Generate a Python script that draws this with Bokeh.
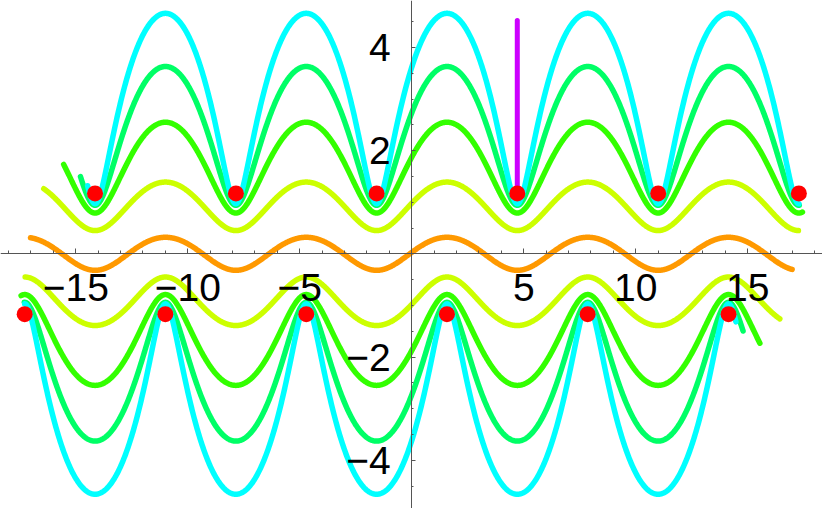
import numpy as np
from bokeh.plotting import figure
from bokeh.models import LinearAxis, FixedTicker, Range1d
from bokeh.embed import file_html
from bokeh.resources import INLINE

# ---- data ----
# upper family of wavy curves (the lower family is the point reflection through the origin)
curve_colors = ["#ff9900", "#ccff00", "#33ff00", "#00ff66", "#00ffff"]
curve_center = [0.0, 0.92, 1.67, 2.285, 2.815]      # mid level of each wave
curve_amp = [0.32, 0.47, 0.88, 1.345, 1.845]         # half height of each wave
curve_skew = [0.09, 0.13, 0.24, 0.36, 0.50]          # how sharp the troughs are
curve_x_start = [-17.02, -16.43, -15.54, -14.79, -14.47]
curve_x_end = [16.98, 17.26, 17.44, 17.30, 17.28]
curve_mirrored = [False, True, True, True, True]

dot_upper_x = [-14.14, -7.85, -1.57, 4.71, 11.0, 17.28]
dot_upper_y = [1.17, 1.17, 1.17, 1.17, 1.17, 1.17]
dot_lower_x = [-17.28, -11.0, -4.71, 1.57, 7.85, 14.14]
dot_lower_y = [-1.17, -1.17, -1.17, -1.17, -1.17, -1.17]

stem_x = [4.71, 4.71]
stem_y = [1.17, 4.52]

x_ticks = [-15, -10, -5, 5, 10, 15]
x_tick_labels = ["\u221215", "\u221210", "\u22125", "5", "10", "15"]
x_minor_ticks = list(range(-18, 19))
y_ticks = [-4, -2, 2, 4]
y_tick_labels = ["\u22124", "\u22122", "2", "4"]
y_minor_ticks = [v / 2 for v in range(-9, 10)]

# ---- figure ----
p = figure(width=822, height=508, output_backend="svg", toolbar_location=None,
           x_range=Range1d(-18.36, 18.335), y_range=Range1d(-4.936, 4.909),
           x_axis_type=None, y_axis_type=None, min_border=0)
p.outline_line_color = None
p.xgrid.visible = False
p.ygrid.visible = False
p.background_fill_color = "white"


def wave(a, b, c, x0, x1):
    tg = np.linspace(-30, 30, 20001)
    xg = tg - a * np.cos(tg)
    t0 = np.interp(x0, xg, tg)
    t1 = np.interp(x1, xg, tg)
    t = np.linspace(t0, t1, 2000)
    return t - a * np.cos(t), c + b * np.sin(t)


for col, c, b, a, x0, x1, mir in zip(curve_colors, curve_center, curve_amp, curve_skew,
                                     curve_x_start, curve_x_end, curve_mirrored):
    x, y = wave(a, b, c, x0, x1)
    p.line(x, y, line_color=col, line_width=5.5, line_cap="round", line_join="round")
    if mir:
        p.line(-x, -y, line_color=col, line_width=5.5, line_cap="round", line_join="round")

p.line(stem_x, stem_y, line_color="#cc00ff", line_width=5, line_cap="round")

p.scatter(dot_upper_x, dot_upper_y, size=16, fill_color="#ff0000", line_color=None)
p.scatter(dot_lower_x, dot_lower_y, size=16, fill_color="#ff0000", line_color=None)

# ---- axes through the origin ----
axis_color = "#555555"
xa = LinearAxis(fixed_location=0,
                ticker=FixedTicker(ticks=x_ticks, minor_ticks=x_minor_ticks))
xa.major_label_overrides = {t: s for t, s in zip(x_ticks, x_tick_labels)}
ya = LinearAxis(fixed_location=0,
                ticker=FixedTicker(ticks=y_ticks, minor_ticks=y_minor_ticks))
ya.major_label_overrides = {t: s for t, s in zip(y_ticks, y_tick_labels)}
for ax in (xa, ya):
    ax.axis_line_color = axis_color
    ax.axis_line_width = 1
    ax.major_tick_line_color = axis_color
    ax.minor_tick_line_color = axis_color
    ax.major_tick_out = 0
    ax.minor_tick_out = 0
    ax.major_label_text_font = "Liberation Sans"
    ax.major_label_text_font_size = "39px"
    ax.major_label_text_color = "black"
xa.major_tick_in = 5
xa.minor_tick_in = 3
xa.major_label_standoff = 20
ya.major_tick_in = 4
ya.minor_tick_in = 2
ya.major_label_standoff = 21
p.add_layout(xa, "below")
p.add_layout(ya, "left")

open("out.html", "w").write(file_html(p, INLINE))
